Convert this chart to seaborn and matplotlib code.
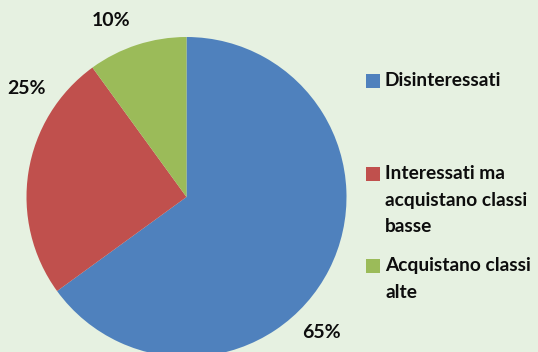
import matplotlib
matplotlib.use('Agg')
import matplotlib.pyplot as plt
import seaborn as sns

# data
categories = ["Disinteressati", "Interessati ma\nacquistano classi\nbasse", "Acquistano classi\nalte"]
shares = [65, 25, 10]
colors = ["#4F81BD", "#C0504D", "#9BBB59"]

sns.set_style("white")
plt.rcParams['font.family'] = ['Lato', 'DejaVu Sans']

W, H = 538, 352
bg = "#E6F1E1"
fig = plt.figure(figsize=(W / 100, H / 100), dpi=100, facecolor=bg)
ax = fig.add_axes([0, 0, 1, 1])
ax.set_facecolor(bg)

# pie in pixel coordinates (y up)
cx, cy, r = 186.5, H - 197, 160
ax.pie(shares, colors=colors, startangle=90, counterclock=False,
       center=(cx, cy), radius=r, wedgeprops=dict(linewidth=0))
ax.set_xlim(0, W)
ax.set_ylim(0, H)
ax.set_aspect('equal')
ax.axis('off')

# percentage labels (Excel best-fit positions, pixel coords)
label_pos = [(321, 333), (26, 88), (111, 21)]
for v, (px, py) in zip(shares, label_pos):
    ax.text(px, H - py, f"{v}%", ha='center', va='center',
            fontsize=14, fontweight='bold', color='#0D0D0D')

# legend drawn by hand to follow the original's irregular spacing
leg_y = [80.5, 173.5, 266]
line_h = 26.6
for lab, c, y in zip(categories, colors, leg_y):
    ax.scatter([373], [H - y], marker='s', s=100, color=c, linewidths=0)
    for i, line in enumerate(lab.split("\n")):
        ax.text(385, H - y - i * line_h, line, ha='left', va='center',
                fontsize=13.8, fontweight='bold', color='#0D0D0D')

fig.savefig("out.png", dpi=100, facecolor=bg)
